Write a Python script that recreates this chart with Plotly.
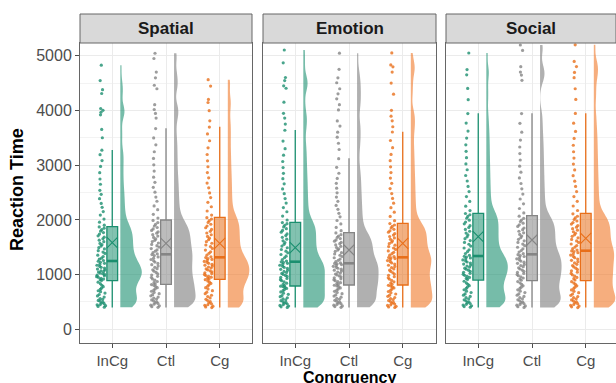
import plotly.graph_objects as go

# ---------------- data ----------------
FACETS = ["Spatial", "Emotion", "Social"]
GROUPS = ["InCg", "Ctl", "Cg"]
Y_TICKS = [0, 1000, 2000, 3000, 4000, 5000]

# reaction times (ms)
SP_INCG = [405, 418, 433, 447, 452, 468, 481, 497, 515, 528, 546, 563, 589, 611, 637, 662, 688, 705, 731, 752, 779, 806, 834, 861,
           893, 907, 918, 934, 951, 962, 978, 990, 1003, 1017, 1029, 1046, 1058, 1071, 1088, 1102, 1119, 1134, 1152, 1171, 1188, 1207, 1226, 1244,
           1258, 1283, 1301, 1329, 1356, 1388, 1412, 1437, 1469, 1493, 1522, 1548, 1571, 1603, 1629, 1656, 1684, 1709, 1741, 1768, 1794, 1822, 1849, 1871,
           1903, 1958, 2016, 2089, 2153, 2231, 2302, 2388, 2467, 2541, 2652, 2748, 2863, 2977, 3084, 3192, 3274,
           3502, 3655, 3921, 3968, 4004, 4037, 4311, 4380, 4548, 4829]
SP_CTL = [402, 414, 429, 441, 458, 473, 486, 502, 519, 537, 553, 571, 590, 612, 633, 651, 674, 696, 718, 739, 761, 783, 801, 818,
          829, 852, 874, 899, 921, 947, 968, 992, 1016, 1041, 1063, 1087, 1108, 1134, 1157, 1181, 1204, 1229, 1252, 1276, 1301, 1324, 1348, 1367,
          1379, 1402, 1428, 1451, 1477, 1503, 1529, 1552, 1578, 1604, 1627, 1653, 1679, 1704, 1731, 1757, 1782, 1808, 1836, 1861, 1889, 1918, 1952, 1991,
          2034, 2102, 2187, 2256, 2341, 2418, 2507, 2596, 2688, 2781, 2893, 3007, 3124, 3246, 3372, 3498, 3669,
          3862, 3947, 4018, 4106, 4398, 4462, 4597, 4703, 4951, 5047]
SP_CG = [398, 409, 423, 438, 449, 466, 484, 505, 527, 549, 574, 598, 623, 652, 679, 707, 736, 762, 788, 813, 839, 862, 884, 907,
         921, 936, 953, 968, 984, 1001, 1019, 1034, 1052, 1069, 1087, 1104, 1121, 1139, 1156, 1172, 1189, 1207, 1224, 1241, 1259, 1277, 1294, 1311,
         1327, 1356, 1389, 1417, 1449, 1478, 1512, 1541, 1573, 1602, 1637, 1666, 1698, 1729, 1761, 1792, 1826, 1857, 1889, 1921, 1954, 1986, 2015, 2041,
         2088, 2163, 2241, 2322, 2409, 2493, 2586, 2674, 2769, 2866, 2972, 3081, 3196, 3318, 3447, 3571, 3698,
         3812, 3997, 4146, 4203, 4447, 4563]
EM_INCG = [401, 412, 426, 437, 451, 463, 478, 492, 508, 523, 541, 558, 577, 596, 617, 639, 661, 684, 706, 727, 748, 766, 779, 788,
           801, 823, 844, 867, 889, 908, 929, 948, 967, 985, 1003, 1022, 1041, 1059, 1078, 1097, 1116, 1134, 1153, 1171, 1189, 1207, 1222, 1233,
           1247, 1276, 1308, 1337, 1368, 1399, 1428, 1459, 1491, 1522, 1553, 1586, 1617, 1648, 1681, 1713, 1744, 1776, 1808, 1839, 1871, 1902, 1931, 1952,
           1998, 2071, 2149, 2226, 2308, 2391, 2479, 2567, 2659, 2753, 2851, 2957, 3068, 3183, 3302, 3441, 3639,
           3752, 3861, 3948, 4152, 4407, 4451, 4548, 4603, 4872, 5106]
EM_CTL = [403, 415, 428, 442, 455, 469, 483, 498, 514, 531, 549, 567, 587, 608, 629, 651, 673, 694, 716, 737, 757, 776, 793, 806,
          818, 836, 853, 871, 889, 906, 924, 941, 959, 976, 994, 1011, 1029, 1046, 1064, 1081, 1099, 1116, 1134, 1151, 1168, 1184, 1197, 1204,
          1214, 1237, 1261, 1284, 1308, 1331, 1354, 1378, 1401, 1425, 1448, 1471, 1495, 1518, 1542, 1565, 1588, 1612, 1635, 1659, 1682, 1706, 1731, 1762,
          1804, 1862, 1927, 1989, 2056, 2121, 2193, 2264, 2339, 2417, 2496, 2581, 2668, 2759, 2853, 2961, 3119,
          3287, 3401, 3512, 3604, 3716, 3809, 4011, 4106, 4213, 4305, 4398, 4507, 4598, 4752, 5048]
EM_CG = [399, 408, 421, 436, 448, 462, 477, 493, 509, 526, 544, 562, 582, 603, 624, 646, 668, 691, 713, 735, 756, 774, 791, 804,
         823, 847, 869, 894, 918, 941, 963, 987, 1011, 1034, 1058, 1081, 1104, 1127, 1149, 1171, 1193, 1214, 1236, 1257, 1276, 1293, 1306, 1313,
         1329, 1355, 1382, 1408, 1434, 1461, 1487, 1513, 1539, 1566, 1592, 1618, 1645, 1671, 1697, 1723, 1749, 1776, 1802, 1828, 1854, 1881, 1907, 1934,
         1987, 2064, 2142, 2223, 2306, 2393, 2481, 2573, 2668, 2764, 2865, 2971, 3082, 3198, 3321, 3452, 3607,
         3703, 3812, 3897, 4003, 4298, 4502, 4703, 4798, 4833, 5052]
SO_INCG = [404, 416, 431, 443, 457, 472, 488, 504, 521, 539, 558, 578, 601, 624, 648, 673, 698, 723, 748, 772, 797, 822, 848, 879,
           912, 931, 949, 968, 987, 1006, 1024, 1043, 1062, 1081, 1099, 1118, 1137, 1156, 1174, 1193, 1212, 1231, 1249, 1268, 1287, 1306, 1322, 1335,
           1352, 1386, 1419, 1453, 1487, 1521, 1555, 1589, 1623, 1657, 1691, 1725, 1759, 1793, 1827, 1861, 1894, 1928, 1962, 1996, 2030, 2063, 2094, 2117,
           2171, 2252, 2338, 2427, 2518, 2613, 2711, 2812, 2917, 3024, 3137, 3253, 3372, 3496, 3624, 3771, 3944,
           4198, 4403, 4652, 4748, 5051]
SO_CTL = [401, 413, 427, 441, 456, 471, 487, 503, 521, 539, 559, 579, 601, 624, 648, 672, 697, 722, 747, 771, 796, 821, 847, 872,
          897, 918, 938, 959, 979, 1000, 1021, 1041, 1062, 1083, 1103, 1124, 1145, 1165, 1186, 1207, 1227, 1248, 1269, 1289, 1310, 1331, 1349, 1364,
          1383, 1412, 1441, 1471, 1500, 1529, 1558, 1588, 1617, 1646, 1676, 1705, 1734, 1764, 1793, 1822, 1852, 1881, 1910, 1940, 1969, 1998, 2029, 2069,
          2127, 2209, 2294, 2382, 2473, 2568, 2666, 2768, 2873, 2982, 3095, 3212, 3333, 3459, 3603, 3766, 3943,
          4552, 4648, 4703, 4802, 5098, 5197]
SO_CG = [398, 411, 425, 439, 454, 469, 485, 502, 519, 538, 557, 578, 599, 622, 646, 670, 695, 720, 745, 770, 795, 820, 846, 871,
         902, 926, 949, 973, 997, 1021, 1045, 1069, 1093, 1117, 1141, 1165, 1189, 1213, 1237, 1261, 1285, 1309, 1333, 1357, 1380, 1402, 1421, 1433,
         1448, 1476, 1504, 1532, 1560, 1588, 1616, 1644, 1672, 1700, 1728, 1756, 1784, 1812, 1840, 1868, 1896, 1924, 1952, 1980, 2008, 2036, 2067, 2112,
         2172, 2254, 2339, 2427, 2518, 2612, 2709, 2809, 2913, 3020, 3131, 3246, 3365, 3489, 3618, 3768, 3946,
         4203, 4398, 4601, 4697, 4803, 4898, 5201]

RT = {
    "Spatial": [SP_INCG, SP_CTL, SP_CG],
    "Emotion": [EM_INCG, EM_CTL, EM_CG],
    "Social": [SO_INCG, SO_CTL, SO_CG],
}

# box statistics (order: InCg, Ctl, Cg)
Q1 = {"Spatial": [889, 823, 914], "Emotion": [792, 810, 810], "Social": [901, 889, 889]}
MEDIAN = {"Spatial": [1249, 1371, 1316], "Emotion": [1236, 1207, 1316], "Social": [1340, 1371, 1437]}
Q3 = {"Spatial": [1876, 1998, 2047], "Emotion": [1956, 1766, 1938], "Social": [2121, 2077, 2121]}
LOWER = {"Spatial": [400, 400, 400], "Emotion": [400, 400, 400], "Social": [400, 400, 400]}
UPPER = {"Spatial": [3278, 3674, 3704], "Emotion": [3644, 3126, 3613], "Social": [3949, 3949, 3950]}
MEAN = {"Spatial": [1583, 1572, 1572], "Emotion": [1492, 1450, 1572], "Social": [1693, 1633, 1663]}

# ---------------- style ----------------
COLORS = ["#1b8f6f", "#858585", "#e86f1a"]
FILL_BOX = ["rgba(27,143,111,0.55)", "rgba(133,133,133,0.55)", "rgba(232,111,26,0.55)"]
FILL_VIO = ["rgba(27,143,111,0.6)", "rgba(133,133,133,0.65)", "rgba(240,120,40,0.6)"]
FONT = "Liberation Sans, Arial, Helvetica, sans-serif"

W, H = 616, 383
PANEL_PX = [(80, 252), (263, 436), (446, 616)]
PX_PER_UNIT = 53.75
TOP_PX, BOT_PX, STRIP_TOP_PX = 43, 343, 14
Y_RANGE = [-250, 5234]
BOX_W = 0.2

fig = go.Figure()

for k, facet in enumerate(FACETS):
    xa = "x" if k == 0 else f"x{k+1}"
    ya = "y" if k == 0 else f"y{k+1}"
    for i, grp in enumerate(GROUPS):
        pos = i + 1
        vals = RT[facet][i]
        # half violin (right side)
        fig.add_trace(go.Violin(
            x=[pos + 0.15] * len(vals), y=vals, xaxis=xa, yaxis=ya,
            side="positive", width=0.8, spanmode="hard", bandwidth=130,
            points=False, fillcolor=FILL_VIO[i], line=dict(width=0, color=FILL_VIO[i]),
            box_visible=False, meanline_visible=False, scalemode="width",
            showlegend=False, hoverinfo="skip"))
        # jittered raw points (left side)
        fig.add_trace(go.Box(
            x=[pos - 0.2] * len(vals), y=vals, xaxis=xa, yaxis=ya,
            boxpoints="all", jitter=1, pointpos=0, width=0.2,
            fillcolor="rgba(0,0,0,0)", line=dict(width=0, color="rgba(0,0,0,0)"),
            marker=dict(size=3.2, color=COLORS[i], opacity=0.8),
            showlegend=False, hoverinfo="skip"))
        # boxplot from statistics
        fig.add_trace(go.Box(
            x=[pos], q1=[Q1[facet][i]], median=[MEDIAN[facet][i]], q3=[Q3[facet][i]],
            lowerfence=[LOWER[facet][i]], upperfence=[UPPER[facet][i]],
            xaxis=xa, yaxis=ya, width=BOX_W, whiskerwidth=0,
            fillcolor=FILL_BOX[i], line=dict(color=COLORS[i], width=1.3),
            showlegend=False, hoverinfo="skip"))
        # thicker median (ggplot style)
        fig.add_trace(go.Scatter(
            x=[pos - BOX_W / 2, pos + BOX_W / 2], y=[MEDIAN[facet][i]] * 2,
            xaxis=xa, yaxis=ya, mode="lines", line=dict(color=COLORS[i], width=2.6),
            showlegend=False, hoverinfo="skip"))
    # means
    for i in range(3):
        fig.add_trace(go.Scatter(
            x=[i + 1], y=[MEAN[facet][i]], xaxis=xa, yaxis=ya, mode="markers",
            marker=dict(symbol="x-thin", size=11, line=dict(color=COLORS[i], width=1.1)),
            showlegend=False, hoverinfo="skip"))

y_dom = [1 - BOT_PX / H, 1 - TOP_PX / H]
layout = dict(
    width=W, height=H, margin=dict(l=0, r=0, t=0, b=0),
    paper_bgcolor="white", plot_bgcolor="white",
    boxmode="overlay", violinmode="overlay", showlegend=False,
    font=dict(family=FONT, color="#4d4d4d"),
)
shapes, annotations = [], []
for k, facet in enumerate(FACETS):
    x0, x1 = PANEL_PX[k]
    dom = [x0 / W, min(1.0, x1 / W)]
    xr = [0.4, 0.4 + (x1 - x0) / PX_PER_UNIT]
    sx = "" if k == 0 else str(k + 1)
    layout[f"xaxis{sx}"] = dict(
        domain=dom, range=xr, anchor=f"y{sx}", tickvals=[1, 2, 3], ticktext=GROUPS,
        tickfont=dict(size=15, color="#4d4d4d", family=FONT), ticks="outside", ticklen=4,
        tickcolor="#4d4d4d", showgrid=True, gridcolor="#ebebeb", gridwidth=1, zeroline=False,
        showline=True, linecolor="#666666", linewidth=1, mirror=True)
    layout[f"yaxis{sx}"] = dict(
        domain=y_dom, range=Y_RANGE, anchor=f"x{sx}", tickvals=Y_TICKS,
        showticklabels=(k == 0), ticks="outside" if k == 0 else "", ticklen=4,
        tickcolor="#4d4d4d", tickfont=dict(size=16, color="#4d4d4d", family=FONT),
        showgrid=True, gridcolor="#ebebeb", gridwidth=1, zeroline=False,
        minor=dict(dtick=500, tick0=0, showgrid=True, gridcolor="#f3f3f3", gridwidth=1, ticks=""),
        showline=True, linecolor="#666666", linewidth=1, mirror=True,
        **({} if k == 0 else {"matches": "y"}))
    shapes.append(dict(type="rect", xref="paper", yref="paper",
                       x0=dom[0], x1=dom[1], y0=y_dom[1], y1=1 - STRIP_TOP_PX / H,
                       fillcolor="#d9d9d9", line=dict(color="#666666", width=1), layer="above"))
    annotations.append(dict(text=f"<b>{facet}</b>", xref="paper", yref="paper",
                            x=(dom[0] + dom[1]) / 2, y=(y_dom[1] + 1 - STRIP_TOP_PX / H) / 2,
                            xanchor="center", yanchor="middle", showarrow=False,
                            font=dict(size=17, color="#1a1a1a", family=FONT)))

annotations.append(dict(text="<b>Reaction Time</b>", xref="paper", yref="paper",
                        x=17 / W, y=1 - 190 / H, textangle=-90, xanchor="center", yanchor="middle",
                        showarrow=False, font=dict(size=18, color="black", family=FONT)))
annotations.append(dict(text="<b>Congruency</b>", xref="paper", yref="paper",
                        x=349 / W, y=1 - 377 / H, xanchor="center", yanchor="middle",
                        showarrow=False, font=dict(size=16, color="black", family=FONT)))
layout["shapes"] = shapes
layout["annotations"] = annotations
fig.update_layout(**layout)

fig.write_html("out.html", config={"displayModeBar": False, "staticPlot": True},
               post_script="document.body.style.margin='0';document.body.style.overflow='hidden';")
